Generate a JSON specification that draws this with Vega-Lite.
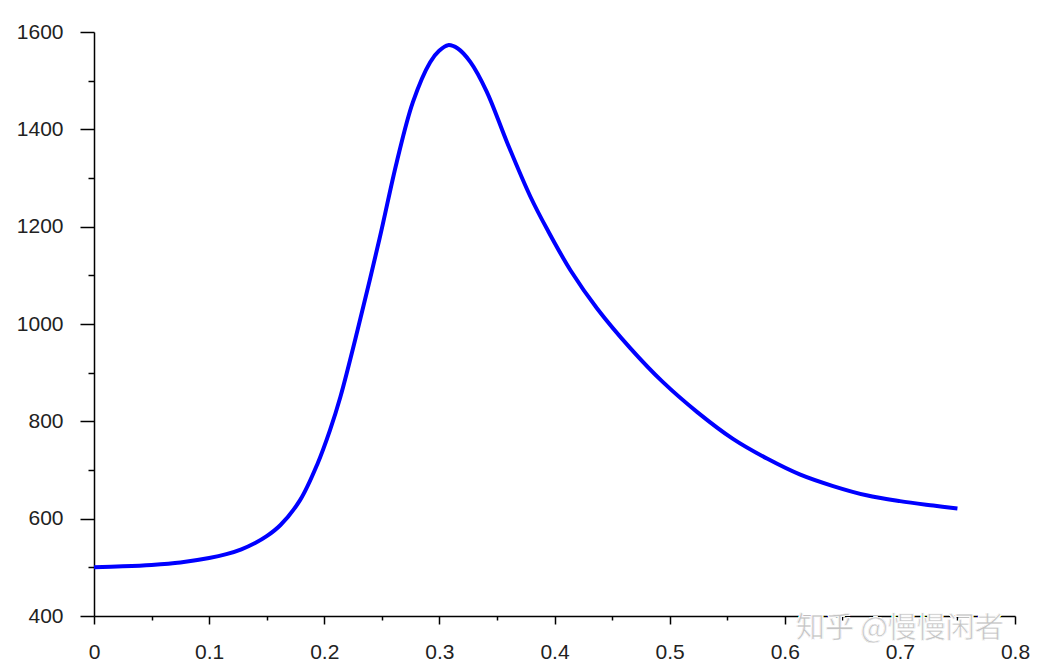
{
  "$schema": "https://vega.github.io/schema/vega-lite/v6.json",
  "autosize": "none",
  "width": 921,
  "height": 584,
  "padding": {"left": 94, "top": 32, "right": 28, "bottom": 56},
  "background": "white",
  "config": {"view": {"stroke": null}, "font": "Liberation Sans"},
  "data": {"values": [
    {"x": 0.0, "y": 500},
    {"x": 0.025, "y": 502},
    {"x": 0.05, "y": 505},
    {"x": 0.075, "y": 510},
    {"x": 0.1, "y": 519},
    {"x": 0.115, "y": 527},
    {"x": 0.128, "y": 537},
    {"x": 0.14, "y": 550},
    {"x": 0.15, "y": 564},
    {"x": 0.162, "y": 587},
    {"x": 0.179, "y": 638},
    {"x": 0.194, "y": 712},
    {"x": 0.205, "y": 782},
    {"x": 0.214, "y": 850},
    {"x": 0.229, "y": 988},
    {"x": 0.248, "y": 1175},
    {"x": 0.263, "y": 1333},
    {"x": 0.277, "y": 1456},
    {"x": 0.292, "y": 1538},
    {"x": 0.300, "y": 1562},
    {"x": 0.3075, "y": 1573},
    {"x": 0.316, "y": 1566},
    {"x": 0.327, "y": 1538},
    {"x": 0.341, "y": 1478},
    {"x": 0.359, "y": 1372},
    {"x": 0.379, "y": 1262},
    {"x": 0.394, "y": 1193},
    {"x": 0.414, "y": 1110},
    {"x": 0.437, "y": 1032},
    {"x": 0.466, "y": 950},
    {"x": 0.494, "y": 881},
    {"x": 0.524, "y": 819},
    {"x": 0.555, "y": 764},
    {"x": 0.585, "y": 723},
    {"x": 0.613, "y": 691},
    {"x": 0.642, "y": 667},
    {"x": 0.671, "y": 648},
    {"x": 0.700, "y": 636},
    {"x": 0.729, "y": 627},
    {"x": 0.750, "y": 621}
  ]},
  "layer": [
    {
      "mark": {"type": "line", "color": "#0000ff", "strokeWidth": 4, "interpolate": "catmull-rom"},
      "encoding": {
        "x": {"field": "x", "type": "quantitative", "scale": {"domain": [0, 0.8], "nice": false, "zero": false},
          "axis": {"orient": "bottom", "title": null,
            "values": [0, 0.025, 0.05, 0.075, 0.1, 0.125, 0.15, 0.175, 0.2, 0.225, 0.25, 0.275, 0.3, 0.325, 0.35, 0.375, 0.4, 0.425, 0.45, 0.475, 0.5, 0.525, 0.55, 0.575, 0.6, 0.625, 0.65, 0.675, 0.7, 0.725, 0.75, 0.775, 0.8],
            "labelExpr": "abs(datum.value*10 - round(datum.value*10)) < 0.001 ? format(datum.value, '~g') : ''",
            "tickSize": {"condition": {"test": "abs(datum.value*10 - round(datum.value*10)) < 0.001", "value": 8}, "value": 4},
            "grid": false, "domainColor": "#000", "domainWidth": 1.5, "tickColor": "#000", "tickWidth": 1.5,
            "labelFontSize": 21, "labelColor": "#222", "labelPadding": 17, "labelFlush": false, "labelOverlap": false, "labelFont": "Liberation Sans"}},
        "y": {"field": "y", "type": "quantitative", "scale": {"domain": [400, 1600], "nice": false, "zero": false},
          "axis": {"orient": "left", "title": null,
            "values": [400, 500, 600, 700, 800, 900, 1000, 1100, 1200, 1300, 1400, 1500, 1600],
            "labelExpr": "datum.value % 200 == 0 ? format(datum.value, 'd') : ''",
            "tickSize": {"condition": {"test": "datum.value % 200 == 0", "value": 14}, "value": 6},
            "grid": false, "domainColor": "#000", "domainWidth": 1.5, "tickColor": "#000", "tickWidth": 1.5,
            "labelFontSize": 21, "labelColor": "#222", "labelPadding": 17, "labelOverlap": false, "labelFont": "Liberation Sans"}}
      }
    },
    {
      "mark": {"type": "text", "text": "知乎 @慢慢闲者", "font": "Noto Sans CJK SC", "fontSize": 29, "color": "#c4c4c4", "stroke": "#ffffff", "strokeWidth": 0.6, "align": "center", "baseline": "middle"},
      "encoding": {
        "x": {"datum": 0.7},
        "y": {"datum": 373}
      }
    }
  ]
}
